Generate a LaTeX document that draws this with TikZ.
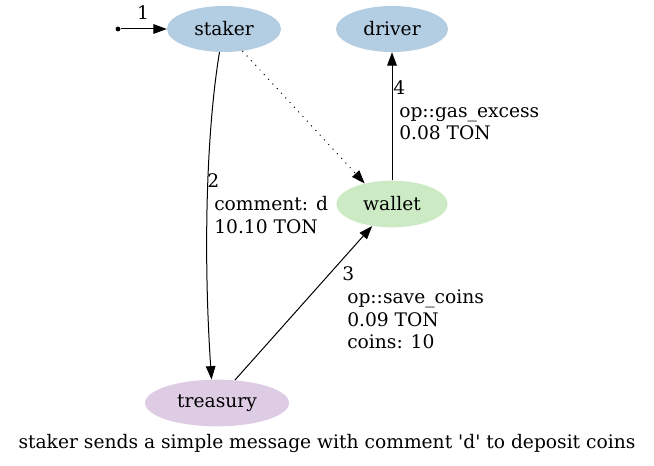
\documentclass[tikz,border=0pt]{standalone}
\usepackage{fontspec}
\setmainfont{DejaVu Serif}
\usetikzlibrary{arrows.meta,shapes.geometric}
\definecolor{cblue}{HTML}{B3CDE3}
\definecolor{cgreen}{HTML}{CCEBC5}
\definecolor{cpurple}{HTML}{DECBE4}
\begin{document}
\begin{tikzpicture}[x=0.75pt,y=-0.75pt,
  every node/.style={font=\fontsize{14pt}{17pt}\selectfont},
  actor/.style={ellipse,draw=none,inner sep=0pt,minimum height=34.5pt},
  edge/.style={line width=0.75pt,-{Triangle[length=10pt,width=7.2pt]}},
  lbl/.style={anchor=base west,inner sep=0pt}]
\useasboundingbox (0,0) rectangle (654,466);
\node[actor,fill=cblue,minimum width=85.5pt] (staker) at (224,29) {staker};
\node[actor,fill=cblue,minimum width=84pt] (driver) at (392,29) {driver};
\node[actor,fill=cgreen,minimum width=83.5pt,minimum height=35pt] (wallet) at (392,204) {wallet};
\node[actor,fill=cpurple,minimum width=108pt,minimum height=35pt] (treasury) at (217,403) {treasury};
\node[circle,fill=black,inner sep=0pt,minimum size=3.6pt] (start) at (118,29) {};
\draw[edge] (start) -- (staker);
\node[anchor=base,inner sep=0pt] (l1) at (143,20) {1};
\draw[edge] (staker.-101) .. controls +(-14,85) and +(-8,-118) .. (treasury.103);
\node[lbl] (l2) at (207,188) {2};
\node[lbl] (l2a) at (214,211) {comment: d};
\node[lbl] (l2b) at (214,234) {10.10 TON};
\draw[edge,dash pattern=on 0.75pt off 4pt] (staker.-50) -- (wallet.143);
\draw[edge] (treasury.52) -- (wallet.-132);
\node[lbl] (l3) at (342,281) {3};
\node[lbl] (l3a) at (347,304) {op::save\_coins};
\node[lbl] (l3b) at (347,327) {0.09 TON};
\node[lbl] (l3c) at (347,349) {coins: 10};
\draw[edge] (wallet.north) -- (driver.south);
\node[lbl] (l4) at (393,95) {4};
\node[lbl] (l4a) at (399,118) {op::gas\_excess};
\node[lbl] (l4b) at (399,140) {0.08 TON};
\node[anchor=base,inner sep=0pt] (cap) at (327,449) {staker sends a simple message with comment \textquotesingle d\textquotesingle{} to deposit coins};
\end{tikzpicture}
\end{document}
